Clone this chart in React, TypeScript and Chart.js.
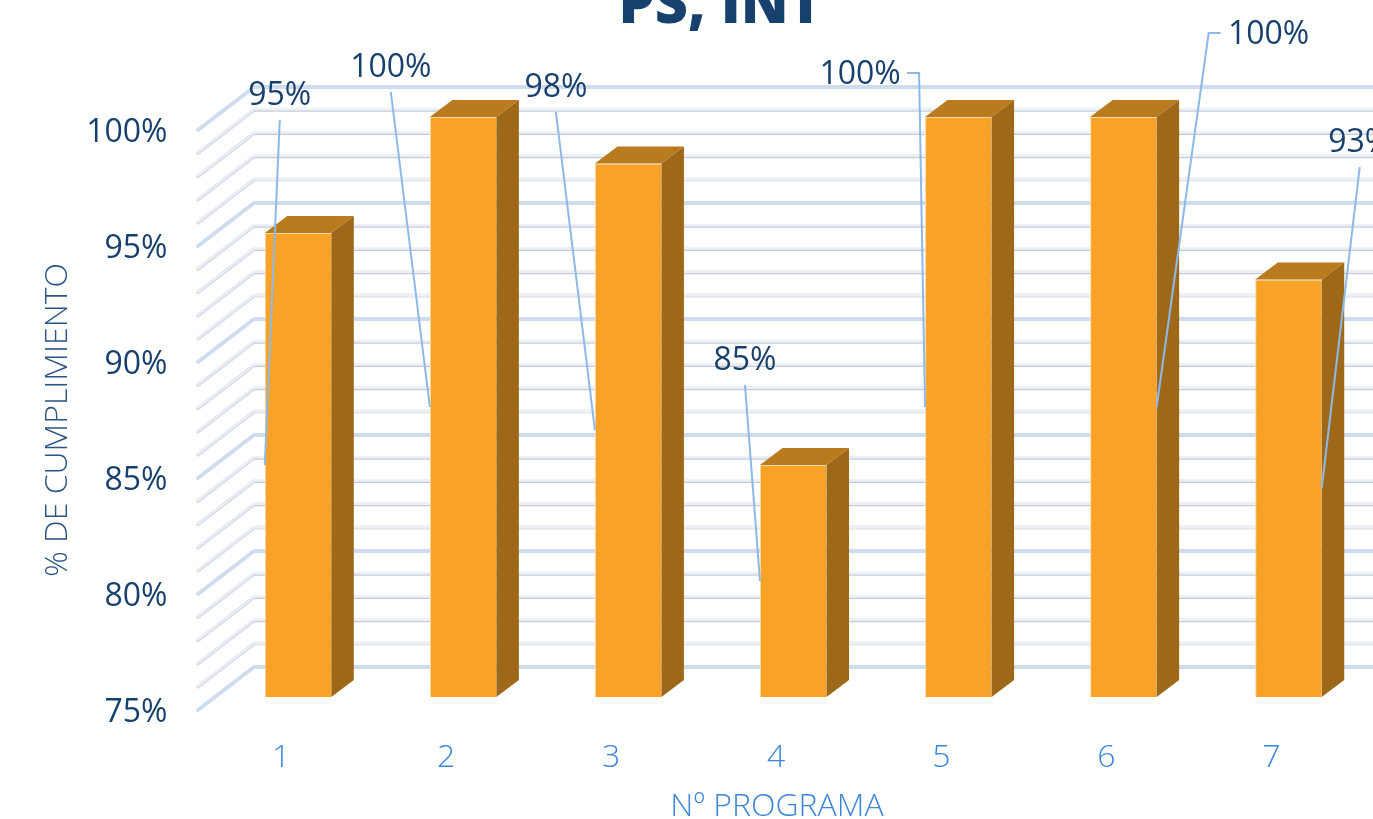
import React, { useEffect, useRef } from "react";
import { Chart, registerables } from "chart.js";

Chart.register(...registerables);

const categories = ["1", "2", "3", "4", "5", "6", "7"];
const compliance = [95, 100, 98, 85, 100, 100, 93];
const yMin = 75;
const yMax = 100;
const yStep = 5;
const chartTitle = "PS, INT";
const yAxisTitle = "% DE CUMPLIMIENTO";
const xAxisTitle = "Nº PROGRAMA";

const W = 1373;
const H = 819;
const FONT = '"Open Sans", sans-serif';
const NAVY = "#17406D";
const SKY = "#3D86DA";
const LEADER = "#8DB9E8";

// 3D geometry, in pixels relative to the plane on which the bars stand
const BAR_DEPTH = { dx: 22.5, dy: 17 };
const WALL = { left: 254, dy: 30 };
const FRONT = { left: 198, dy: 13 };

// label placement relative to the middle of each bar's edge
type Leader = { side: "left" | "right"; tx: number; ty: number; elbow?: number; dir?: number };
const leaders: Leader[] = [
  { side: "left", tx: 15, ty: -369 },
  { side: "left", tx: -39, ty: -339 },
  { side: "left", tx: -39, ty: -342 },
  { side: "left", tx: -15, ty: -220 },
  { side: "left", tx: -65, ty: -332, elbow: -6, dir: -1 },
  { side: "right", tx: 112, ty: -372, elbow: 52, dir: 1 },
  { side: "right", tx: 38, ty: -345 },
];

const depthPlugin = {
  id: "depth3d",
  beforeDatasetsDraw(chart: any) {
    const { ctx, scales } = chart;
    const y = scales.y;
    ctx.save();
    for (let v = yMin; v <= yMax; v++) {
      const p = y.getPixelForValue(v);
      const major = v % yStep === 0;
      const backY = p - WALL.dy;
      const frontY = p + FRONT.dy;
      if (major) {
        ctx.strokeStyle = "#CFDCEE";
        ctx.lineWidth = 4;
        ctx.lineCap = "round";
        ctx.beginPath();
        ctx.moveTo(FRONT.left, frontY);
        ctx.lineTo(WALL.left, backY);
        ctx.stroke();
        ctx.lineCap = "butt";
        ctx.beginPath();
        ctx.moveTo(WALL.left, backY);
        ctx.lineTo(W, backY);
        ctx.stroke();
        continue;
      }
      ctx.strokeStyle = "#D2DAE6";
      ctx.lineWidth = 3.5;
      ctx.lineCap = "round";
      ctx.beginPath();
      ctx.moveTo(FRONT.left, frontY);
      ctx.lineTo(WALL.left, backY);
      ctx.stroke();
      ctx.strokeStyle = "#EDF1F7";
      ctx.lineWidth = 1.6;
      ctx.beginPath();
      ctx.moveTo(FRONT.left, frontY - 0.5);
      ctx.lineTo(WALL.left, backY - 0.5);
      ctx.stroke();
      ctx.lineCap = "butt";
      ctx.strokeStyle = "#EDF1F6";
      ctx.lineWidth = 3;
      ctx.beginPath();
      ctx.moveTo(WALL.left, backY - 1);
      ctx.lineTo(W, backY - 1);
      ctx.stroke();
      const mod = ((v % yStep) + yStep) % yStep;
      ctx.strokeStyle = mod === 1 ? "#DCE0E8" : "#C6CCD7";
      ctx.lineWidth = 1.2;
      ctx.beginPath();
      ctx.moveTo(WALL.left, backY + 1);
      ctx.lineTo(W, backY + 1);
      ctx.stroke();
    }
    ctx.restore();
  },
  afterDatasetsDraw(chart: any) {
    const { ctx } = chart;
    const meta = chart.getDatasetMeta(0);
    ctx.save();
    meta.data.forEach((bar: any) => {
      const half = bar.width / 2;
      const l = bar.x - half;
      const r = bar.x + half;
      const t = bar.y;
      const b = bar.base;
      const { dx, dy } = BAR_DEPTH;
      ctx.fillStyle = "#9E6819";
      ctx.beginPath();
      ctx.moveTo(r, t);
      ctx.lineTo(r + dx, t - dy);
      ctx.lineTo(r + dx, b - dy);
      ctx.lineTo(r, b);
      ctx.closePath();
      ctx.fill();
      ctx.fillStyle = "#BA7B1E";
      ctx.beginPath();
      ctx.moveTo(l, t);
      ctx.lineTo(l + dx, t - dy);
      ctx.lineTo(r + dx, t - dy);
      ctx.lineTo(r, t);
      ctx.closePath();
      ctx.fill();
    });
    ctx.restore();
  },
  afterDraw(chart: any) {
    const { ctx } = chart;
    const meta = chart.getDatasetMeta(0);
    ctx.save();
    meta.data.forEach((bar: any, i: number) => {
      const cfg = leaders[i];
      const half = bar.width / 2;
      const ax = cfg.side === "left" ? bar.x - half : bar.x + half;
      const ay = (bar.y + bar.base) / 2;
      const lx = ax + cfg.tx;
      const ly = ay + cfg.ty;
      ctx.strokeStyle = LEADER;
      ctx.lineWidth = 2;
      ctx.beginPath();
      ctx.moveTo(ax, ay);
      if (cfg.elbow !== undefined) {
        const ex = ax + cfg.elbow;
        ctx.lineTo(ex, ly - 2);
        ctx.lineTo(ex + (cfg.dir as number) * 12, ly - 2);
      } else {
        ctx.lineTo(lx, ly + 24);
      }
      ctx.stroke();
      ctx.fillStyle = NAVY;
      ctx.font = `400 32px ${FONT}`;
      ctx.textBaseline = "middle";
      ctx.textAlign = "center";
      ctx.fillText(`${compliance[i]}%`, lx, ly);
    });

    ctx.fillStyle = NAVY;
    ctx.font = `800 57.5px ${FONT}`;
    ctx.textAlign = "center";
    ctx.textBaseline = "alphabetic";
    ctx.fillText(chartTitle, 720.5, 23);

    ctx.fillStyle = SKY;
    ctx.font = `300 32px ${FONT}`;
    ctx.textBaseline = "middle";
    ctx.fillText(xAxisTitle, 777, 807);

    ctx.save();
    ctx.translate(58, 420);
    ctx.rotate(-Math.PI / 2);
    ctx.fillStyle = "#2A5483";
    ctx.font = `300 32px ${FONT}`;
    ctx.fillText(yAxisTitle, 0, 0);
    ctx.restore();
    ctx.restore();
  },
};

export default function App() {
  const ref = useRef<HTMLCanvasElement>(null);
  useEffect(() => {
    document.body.style.margin = "0";
    const chart = new Chart(ref.current as HTMLCanvasElement, {
      type: "bar",
      data: {
        labels: categories,
        datasets: [
          {
            data: compliance,
            base: yMin,
            backgroundColor: "#F8A327",
            borderColor: "#F6D9A8",
            borderWidth: { left: 1, top: 1 },
            barPercentage: 0.403,
            categoryPercentage: 1,
          },
        ],
      },
      options: {
        responsive: false,
        animation: false,
        layout: { padding: { top: 117, right: 2, left: 0, bottom: 0 } },
        plugins: { legend: { display: false }, tooltip: { enabled: false }, title: { display: false } },
        scales: {
          x: {
            grid: { display: false, drawTicks: false },
            border: { display: false },
            ticks: {
              color: SKY,
              font: { family: FONT, size: 32, weight: "300" },
              padding: 42,
              labelOffset: -17,
              maxRotation: 0,
              autoSkip: false,
            },
            afterFit(scale: any) {
              scale.height = 122;
            },
          },
          y: {
            min: yMin,
            max: yMax,
            grid: { display: false, drawTicks: false },
            border: { display: false },
            ticks: {
              stepSize: yStep,
              color: NAVY,
              font: { family: FONT, size: 32, weight: "400" },
              padding: 48,
              labelOffset: 16,
              callback: (v: any) => `${v}%`,
            },
            afterFit(scale: any) {
              scale.width = 215.5;
            },
          },
        },
      },
      plugins: [depthPlugin],
    } as any);
    return () => chart.destroy();
  }, []);
  return (
    <canvas
      ref={ref}
      width={W}
      height={H}
      style={{ display: "block", position: "absolute", left: 0, top: 0 }}
    />
  );
}
